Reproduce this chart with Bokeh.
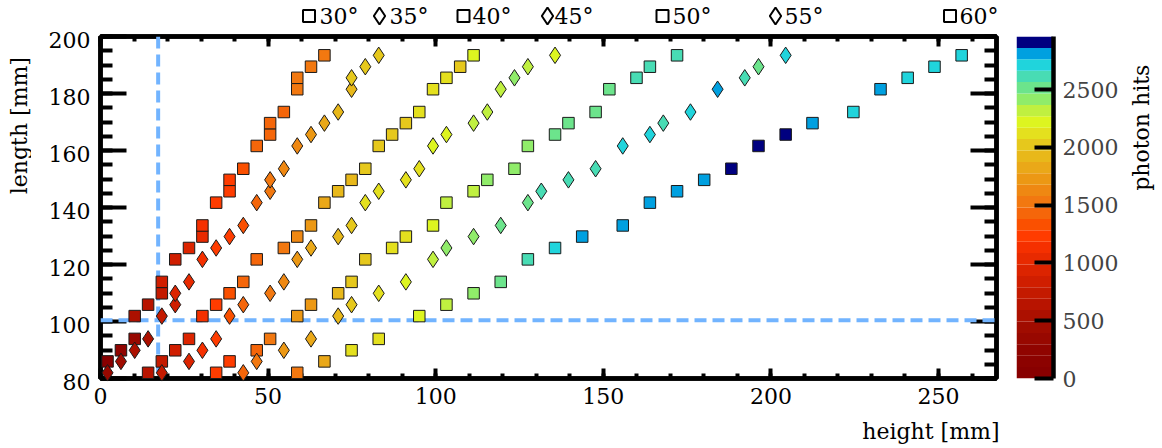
import math
from bokeh.plotting import figure
from bokeh.models import (LinearAxis, SingleIntervalTicker, Span, Range1d,
                          ColumnDataSource, LinearColorMapper)
from bokeh.core.properties import value
from bokeh.layouts import row, column
from bokeh.embed import file_html
from bokeh.resources import INLINE

# ---------------- data ----------------
lengths = [82.0, 86.0, 89.9, 93.9, 101.9, 105.9, 109.9, 113.9, 121.8, 125.8, 129.8, 133.7,
           141.7, 145.7, 149.7, 153.6, 161.6, 165.6, 169.6, 173.5, 181.5, 185.5, 189.4, 193.4]

angles = ["30°", "35°", "40°", "45°", "50°", "55°", "60°"]
markers = ["square", "diamond", "square", "diamond", "square", "diamond", "square"]

height_30 = [2.1, 6.1, 10.2, 10.2, 14.2, 18.3, 18.3, 22.3, 26.4, 30.4, 30.4, 34.5, 38.5, 38.5,
             42.6, 46.6, 50.6, 50.6, 54.7, 58.7, 58.7, 62.8, 66.8]
height_35 = [2.1, 6.1, 10.2, 14.2, 18.3, 22.3, 22.3, 26.4, 30.4, 34.5, 38.5, 42.6, 46.6, 50.6,
             50.6, 54.7, 58.7, 62.8, 66.8, 70.9, 74.9, 74.9, 79.0, 83.0]
height_40 = [14.2, 18.3, 22.3, 26.4, 30.4, 34.5, 38.5, 42.6, 46.6, 54.7, 58.7, 62.8, 66.8, 70.9,
             74.9, 79.0, 83.0, 87.0, 91.1, 95.1, 99.2, 103.2, 107.3, 111.3]
height_45 = [18.3, 26.4, 30.4, 34.5, 38.5, 42.6, 50.6, 54.7, 58.7, 62.8, 70.9, 74.9, 79.0, 83.0,
             91.1, 95.1, 99.2, 103.2, 111.3, 115.4, 119.4, 123.5, 127.5, 135.6]
height_50 = [34.5, 38.5, 46.6, 50.6, 58.7, 62.8, 70.9, 74.9, 79.0, 87.0, 91.1, 99.2, 103.2, 111.3,
             115.4, 123.5, 127.5, 135.6, 139.6, 147.7, 151.8, 159.9, 163.9, 172.0]
height_55 = [42.6, 46.6, 54.7, 62.8, 70.9, 74.9, 83.0, 91.1, 99.2, 103.2, 111.3, 119.4, 127.5,
             131.5, 139.6, 147.7, 155.8, 163.9, 167.9, 176.0, 184.1, 192.2, 196.3, 204.4]
height_60 = [58.7, 66.8, 74.9, 83.0, 95.1, 103.2, 111.3, 119.4, 127.5, 135.6, 143.7, 155.8, 163.9,
             172.0, 180.1, 188.2, 196.3, 204.4, 212.4, 224.6, 232.7, 240.8, 248.8, 256.9]

hits_30 = [50, 250, 350, 550, 650, 750, 850, 850, 950, 1050, 1150, 1250, 1250, 1250, 1350, 1450,
           1450, 1450, 1450, 1550, 1550, 1550, 1550]
hits_35 = [350, 450, 550, 550, 750, 850, 950, 1050, 1150, 1250, 1250, 1350, 1450, 1550, 1550,
           1650, 1650, 1750, 1850, 1950, 1950, 2050, 2050, 2050]
hits_40 = [650, 750, 850, 950, 1150, 1250, 1350, 1450, 1450, 1550, 1650, 1750, 1850, 1950, 1950,
           2050, 2050, 2050, 2050, 2150, 2150, 2150, 2050, 2250]
hits_45 = [750, 950, 1150, 1250, 1350, 1450, 1550, 1650, 1750, 1850, 1950, 2050, 2150, 2150, 2150,
           2150, 2250, 2250, 2350, 2350, 2350, 2450, 2350, 2250]
hits_50 = [1250, 1250, 1450, 1550, 1750, 1750, 1950, 2050, 2050, 2150, 2150, 2250, 2350, 2350,
           2450, 2450, 2450, 2550, 2550, 2550, 2550, 2650, 2650, 2650]
hits_55 = [1450, 1550, 1750, 1850, 1950, 2050, 2150, 2250, 2350, 2450, 2450, 2550, 2550, 2650,
           2650, 2650, 2750, 2750, 2650, 2750, 2850, 2650, 2550, 2750]
hits_60 = [1550, 1850, 2150, 2150, 2250, 2350, 2450, 2550, 2650, 2750, 2850, 2850, 2850, 2850,
           2850, 2950, 2950, 2950, 2850, 2750, 2850, 2750, 2750, 2750]

heights = [height_30, height_35, height_40, height_45, height_50, height_55, height_60]
hits = [hits_30, hits_35, hits_40, hits_45, hits_50, hits_55, hits_60]

hits_low, hits_high = 0, 2960

PALETTE = ["#880000", "#8c0200", "#900400", "#980800", "#a00c00", "#ac1000", "#b81400",
           "#c41a00", "#d01e00", "#dc2400", "#e82a00", "#f53000", "#ff3c00", "#fa5000",
           "#f5660a", "#f27810", "#ef8812", "#ec9814", "#eaa818", "#e8b81a", "#e6c81c",
           "#e4e01e", "#ddf520", "#c0f040", "#90ec6a", "#6ce48c", "#48dcb4", "#20d4dc",
           "#00a0e0", "#000080"]

v_cut = 17.2
h_cut = 100.4

# ---------------- layout constants (page pixels) ----------------
FONT = "DejaVu Serif"
FS = "22px"
X0, X1 = 0.0, 267.3
Y0, Y1 = 80.0, 200.0
W, H = 1162, 448
L_W = 31                     # strip holding "length [mm]"
YL_W = 61                    # strip holding the y tick labels
LEG_H = 28                   # legend strip
MAIN_LB, FRAME_W, MAIN_RB = 8, 896, 4
MAIN_W = MAIN_LB + FRAME_W + MAIN_RB
TOP_B, FRAME_H, BOT_B = 8, 342, 40
MAIN_H = TOP_B + FRAME_H + BOT_B
CB_LB, CB_W, CB_RB = 16, 37, 70
CB_TOT = CB_LB + CB_W + CB_RB
COL_W = MAIN_W + CB_TOT
B_H = H - LEG_H - MAIN_H
R_W = W - L_W - YL_W - COL_W
COL_X0 = L_W + YL_W


def strip(w, h, x0, y0):
    """A plain drawing strip; x = page px, y = minus page px."""
    f = figure(width=w, height=h, x_range=Range1d(x0, x0 + w), y_range=Range1d(-(y0 + h), -y0),
               output_backend="svg", toolbar_location=None,
               x_axis_location=None, y_axis_location=None,
               min_border_left=0, min_border_right=0, min_border_top=0, min_border_bottom=0)
    f.grid.visible = False
    f.outline_line_color = None
    return f


def txt(f, x, y, s, align="left", angle=0.0):
    f.text(x=[x], y=[-y], text=[s], angle=angle, text_font=value(FONT),
           text_font_size=value(FS), text_align=align, text_baseline="middle",
           text_color="black")


mapper = LinearColorMapper(palette=PALETTE, low=hits_low, high=hits_high)
xr = Range1d(X0, X1)
yr = Range1d(Y0, Y1)

# ---------------- left title strip ----------------
ls_fig = strip(L_W, H, 0, 0)
txt(ls_fig, 19, 23, "length [mm]", align="right", angle=math.pi / 2)

# ---------------- y tick label strip ----------------
YL_TOP = LEG_H + TOP_B + 3
yl = figure(width=YL_W, height=H, x_range=Range1d(0, 1), y_range=yr,
            output_backend="svg", toolbar_location=None,
            x_axis_location=None, y_axis_location=None,
            min_border_left=YL_W - 1, min_border_right=0,
            min_border_top=YL_TOP, min_border_bottom=H - YL_TOP - FRAME_H)
yl.grid.visible = False
yl.outline_line_color = None
yax = LinearAxis(ticker=SingleIntervalTicker(interval=20, num_minor_ticks=0))
yax.axis_line_color = None
yax.major_tick_line_color = None
yax.minor_tick_line_color = None
yax.major_tick_in = 0
yax.major_tick_out = 0
yax.major_label_standoff = 1
yax.major_label_text_font = FONT
yax.major_label_text_font_size = FS
yax.major_label_text_color = "black"
yl.add_layout(yax, "left")

# ---------------- legend strip ----------------
lg = strip(COL_W, LEG_H, COL_X0, 0)
legend_marker_px = [308.5, 379, 463, 547, 662, 775, 949.5]
legend_text_px = [319, 389, 472, 554, 672, 784, 959]
lg_src = ColumnDataSource(dict(x=legend_marker_px, y=[-15.5] * 7, marker=markers,
                               size=[12 if m == "square" else 17 for m in markers]))
lg.scatter(x="x", y="y", marker="marker", size="size", source=lg_src,
           fill_color=None, line_color="black", line_width=2)
lg.text(x=legend_text_px, y=[-15.5] * 7, text=angles, text_font=value(FONT),
        text_font_size=value(FS), text_align="left", text_baseline="middle", text_color="black")

# ---------------- main plot ----------------
p = figure(width=MAIN_W, height=MAIN_H, x_range=xr, y_range=yr,
           output_backend="svg", toolbar_location=None,
           x_axis_location=None, y_axis_location=None,
           min_border_left=MAIN_LB, min_border_right=MAIN_RB,
           min_border_top=TOP_B, min_border_bottom=BOT_B)
p.grid.visible = False
p.outline_line_color = "black"
p.outline_line_width = 4.5


def make_axis(kind, labels):
    if kind == "x":
        ax = LinearAxis(ticker=SingleIntervalTicker(interval=50, num_minor_ticks=5))
        ax.major_tick_in, ax.minor_tick_in = 10, 5
        ax.major_label_standoff = 9
    else:
        ax = LinearAxis(ticker=SingleIntervalTicker(interval=20, num_minor_ticks=4))
        ax.major_tick_in, ax.minor_tick_in = 26, 12
    ax.major_tick_out = 0
    ax.minor_tick_out = 0
    ax.axis_line_width = 4.5
    ax.axis_line_color = "black"
    ax.major_tick_line_width = 4
    ax.minor_tick_line_width = 4
    ax.major_label_text_font = FONT
    if labels:
        ax.major_label_text_font_size = FS
        ax.major_label_text_color = "black"
    else:
        ax.major_label_text_font_size = "1px"
        ax.major_label_text_color = None
        ax.major_label_standoff = 0
    return ax


p.add_layout(make_axis("x", True), "below")
p.add_layout(make_axis("x", False), "above")
p.add_layout(make_axis("y", False), "left")
p.add_layout(make_axis("y", False), "right")

dash_color = "#72b4ff"
p.add_layout(Span(location=v_cut, dimension="height", line_color=dash_color,
                  line_width=4, line_dash="12 6"))
p.add_layout(Span(location=h_cut, dimension="width", line_color=dash_color,
                  line_width=4, line_dash="12 6"))

for ang, mk, hs, ht in zip(angles, markers, heights, hits):
    lsub = lengths[len(lengths) - len(hs):]
    src = ColumnDataSource(dict(h=hs, l=lsub, hits=ht))
    p.scatter(x="h", y="l", source=src, marker=mk,
              size=11.5 if mk == "square" else 16.5,
              fill_color={"field": "hits", "transform": mapper},
              line_color="#1a1a1a", line_width=1, level="overlay")

# ---------------- colour bar ----------------
cb = figure(width=CB_TOT, height=MAIN_H, x_range=Range1d(0, 1),
            y_range=Range1d(hits_low, hits_high),
            output_backend="svg", toolbar_location=None,
            x_axis_location=None, y_axis_location=None,
            min_border_left=CB_LB, min_border_right=CB_RB,
            min_border_top=TOP_B, min_border_bottom=BOT_B)
cb.grid.visible = False
cb.outline_line_color = None
n = len(PALETTE)
step = (hits_high - hits_low) / n
cb.quad(left=0, right=1, bottom=[hits_low + i * step for i in range(n)],
        top=[hits_low + (i + 1) * step for i in range(n)], fill_color=PALETTE, line_color=None)
cax = LinearAxis(ticker=SingleIntervalTicker(interval=500, num_minor_ticks=0))
cax.major_tick_in = 19
cax.major_tick_out = 0
cax.minor_tick_in = 0
cax.minor_tick_out = 0
cax.axis_line_width = 4.5
cax.major_tick_line_width = 4
cax.major_label_text_font = FONT
cax.major_label_text_font_size = FS
cax.major_label_standoff = 9
cb.add_layout(cax, "right")

# ---------------- bottom title strip ----------------
bs = strip(COL_W, B_H, COL_X0, LEG_H + MAIN_H)
txt(bs, 999, 431, "height [mm]", align="right")

# ---------------- right title strip ----------------
rs = strip(R_W, H, W - R_W, 0)
txt(rs, 1141, 33, "photon hits", align="right", angle=math.pi / 2)

layout = row(ls_fig, yl, column(lg, row(p, cb), bs), rs)
open("out.html", "w").write(file_html(layout, INLINE))
